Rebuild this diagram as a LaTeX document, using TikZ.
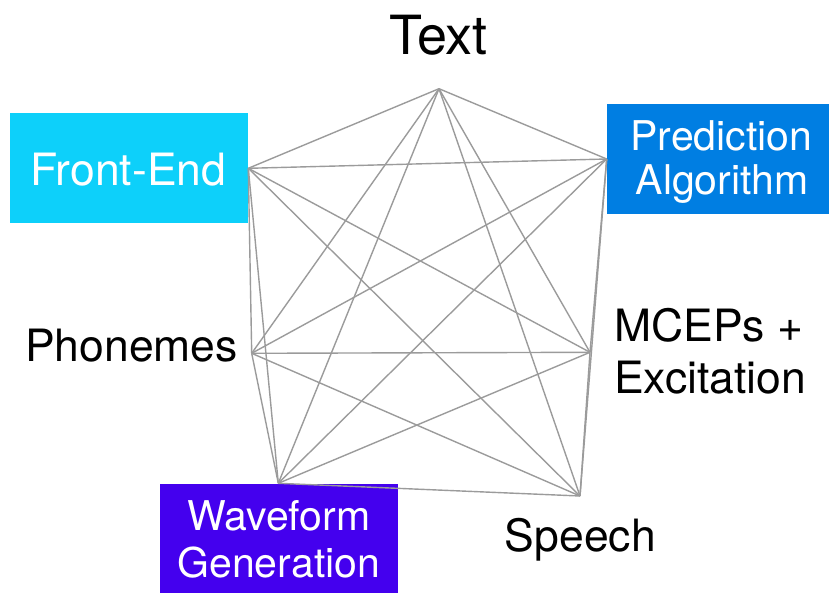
\documentclass[tikz,border=0pt]{standalone}
\usepackage{fontspec}
\setmainfont{TeX Gyre Heros}
\definecolor{fecol}{RGB}{13,208,250}
\definecolor{pacol}{RGB}{0,126,226}
\definecolor{wgcol}{RGB}{68,0,238}
\definecolor{edgecol}{RGB}{155,155,155}
\begin{document}
\begin{tikzpicture}[x=1pt,y=-1pt,
  edge/.style={draw=edgecol,line width=1.4pt},
  box/.style={inner sep=0pt,outer sep=0pt},
  lbl/.style={inner sep=0pt,anchor=base},
  wlbl/.style={lbl,text=white},
  bigf/.style={font=\fontsize{44.5}{52}\selectfont},
  boxf/.style={font=\fontsize{41}{46}\selectfont}]
\useasboundingbox (0,0) rectangle (829,594);
% boxes
\node[box,fill=fecol,minimum width=238.3pt,minimum height=110pt] (febox) at (129.2,168.3) {};
\node[box,fill=pacol,minimum width=221.7pt,minimum height=110.3pt] (pabox) at (718.2,159.2) {};
\node[box,fill=wgcol,minimum width=238.3pt,minimum height=109.3pt] (wgbox) at (279.2,538.7) {};
\node[wlbl,bigf] (fetext) at (128.3,185) {Front-End};
\node[wlbl,boxf] (patext1) at (721.5,150) {Prediction};
\node[wlbl,boxf] (patext2) at (722.2,194.3) {Algorithm};
\node[wlbl,boxf] (wgtext1) at (278.8,530) {Waveform};
\node[wlbl,boxf] (wgtext2) at (278.8,577.3) {Generation};
% plain labels
\node[lbl,font=\fontsize{54}{60}\selectfont] (textlbl) at (438.5,54.3) {Text};
\node[lbl,bigf,anchor=base west] (phlbl) at (25,361.7) {Phonemes};
\node[lbl,bigf,anchor=base west] (mclbl) at (614,341.7) {MCEPs +};
\node[lbl,bigf,anchor=base west] (exlbl) at (614,393.4) {Excitation};
\node[lbl,bigf] (splbl) at (580.3,551.7) {Speech};
% vertices
\coordinate (T) at (439,88.7);
\coordinate (FE) at (248.3,168.3);
\coordinate (PA) at (606.7,159);
\coordinate (PH) at (251.7,353.3);
\coordinate (MC) at (590,352.3);
\coordinate (WG) at (278.3,483.3);
\coordinate (SP) at (580,496);
\foreach \a/\b in {T/FE,T/PA,T/PH,T/MC,T/WG,T/SP,
  FE/PA,FE/PH,FE/MC,FE/WG,FE/SP,
  PA/PH,PA/MC,PA/WG,PA/SP,
  PH/MC,PH/WG,PH/SP,
  MC/WG,MC/SP,
  WG/SP}
  \draw[edge] (\a) -- (\b);
\end{tikzpicture}
\end{document}
